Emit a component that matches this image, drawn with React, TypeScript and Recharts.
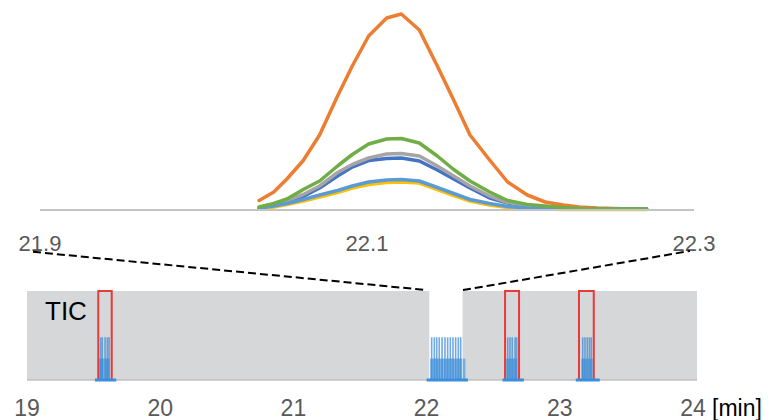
import { LineChart, Line, XAxis, YAxis, ComposedChart, ReferenceArea, ReferenceLine } from 'recharts';

// zoomed peak (top panel)
const zoomTimes = [22.034, 22.043, 22.051, 22.061, 22.071, 22.082, 22.091, 22.101, 22.112, 22.121, 22.132, 22.143, 22.153, 22.163, 22.175, 22.186, 22.198, 22.209, 22.22, 22.23, 22.241, 22.251, 22.261, 22.271];
const blueValues = [1.5, 4.5, 8, 13.5, 22, 34, 43, 49.5, 51.5, 52, 49, 40, 31, 22, 12, 7, 4, 2.5, 1.5, 1, 1, 1, 1, 1];
const orangeValues = [9.5, 18, 31, 49.5, 75, 114, 144, 174, 192, 196, 180, 144, 110, 75, 50, 28, 15, 8, 5, 3, 2, 1.5, 1, 1];
const grayValues = [2, 5.5, 9.5, 15.5, 24, 37.5, 45.5, 52, 56, 56.5, 54, 44, 34, 24, 14, 7.5, 4.5, 3, 2, 1.5, 1, 1, 1, 1];
const yellowValues = [1, 3, 5.5, 9, 13, 17.5, 22, 25.5, 27.5, 28, 27, 20.5, 14.5, 9, 5, 2.5, 1.5, 1, 0.5, 0.5, 0.5, 0.5, 0.5, 0.5];
const lightBlueValues = [2, 4, 6.5, 10.5, 15, 19.5, 24, 28, 30, 30.5, 29, 22.5, 16.5, 10.5, 6.5, 3.5, 2, 1.5, 1, 1, 1, 1, 1, 1];
const greenValues = [3, 6.5, 11, 20.5, 29, 44, 55.5, 66, 71, 71.5, 67, 54, 40.5, 29, 18, 9.5, 5.5, 4, 2.5, 1.5, 1, 1, 1, 1];
const zoomTicks = [21.9, 22.1, 22.3];

// full TIC (bottom panel)
const ticTicks = [19, 20, 21, 22, 23, 24];
const tallTimes = [19.553, 19.565, 19.586, 19.603, 19.616, 22.038, 22.058, 22.076, 22.095, 22.116, 22.138, 22.158, 22.178, 22.198, 22.218, 22.238, 22.256, 22.609, 22.626, 22.643, 22.664, 22.676, 23.172, 23.189, 23.206, 23.222, 23.236];
const tallValues = [48, 48, 48, 48, 48, 48, 48, 48, 48, 48, 48, 48, 48, 48, 48, 48, 48, 48, 48, 48, 48, 48, 48, 48, 48, 48, 48];
const shortTimes = [19.55, 19.56, 19.572, 19.59, 19.6, 19.612, 22.035, 22.048, 22.062, 22.075, 22.088, 22.102, 22.115, 22.128, 22.142, 22.155, 22.168, 22.182, 22.195, 22.208, 22.222, 22.235, 22.248, 22.258, 22.282, 22.606, 22.618, 22.632, 22.647, 22.66, 22.672, 23.17, 23.182, 23.195, 23.21, 23.225, 23.238];
const shortValues = [24, 24, 24, 24, 24, 24, 24, 24, 24, 24, 24, 24, 24, 24, 24, 24, 24, 24, 24, 24, 24, 24, 24, 24, 24, 24, 24, 24, 24, 24, 24, 24, 24, 24, 24, 24, 24];
const ticBands = [[19, 22.02], [22.27, 24.03]];
const windows = [[19.535, 19.636], [22.589, 22.694], [23.144, 23.255]];
const baseSegments = [[19.51, 19.67], [22.0, 22.31], [22.57, 22.73], [23.12, 23.3]];
const connectors = [
  [{ x: 19.045, y: 144 }, { x: 22.003, y: 101 }],
  [{ x: 22.273, y: 101 }, { x: 23.977, y: 145 }],
];

const zoomData = zoomTimes.map((t, i) => ({
  t,
  blue: blueValues[i],
  orange: orangeValues[i],
  gray: grayValues[i],
  yellow: yellowValues[i],
  lightBlue: lightBlueValues[i],
  green: greenValues[i],
}));

const ticData = ticTicks.map((t) => ({ t }));

const font = 'Liberation Sans, Arial, sans-serif';
const ticMargin = { top: 51, right: 75, bottom: 0, left: 27 };

const ZoomTick = ({ x, y, payload }: any) => (
  <text x={x} y={y + 39} textAnchor="middle" fill="#595959" fontSize={22} fontFamily={font}>
    {payload.value}
  </text>
);

const TicTick = ({ x, y, payload }: any) => (
  <g>
    <text x={x} y={y + 34} textAnchor="middle" fill="#595959" fontSize={23} fontFamily={font}>
      {payload.value}
    </text>
    {payload.value === 24 && (
      <text x={x + 19} y={y + 34} fill="#000" fontSize={23} fontFamily={font}>[min]</text>
    )}
  </g>
);

const lines = [
  { key: 'blue', color: '#4472C4' },
  { key: 'orange', color: '#ED7D31' },
  { key: 'gray', color: '#A5A5A5' },
  { key: 'yellow', color: '#FFC000' },
  { key: 'lightBlue', color: '#5B9BD5' },
  { key: 'green', color: '#70AD47' },
];

export default function App() {
  return (
    <div style={{ position: 'absolute', left: 0, top: 0, width: 772, height: 420, background: '#fff' }}>
      <div style={{ position: 'absolute', left: 0, top: 0 }}>
        <LineChart width={772} height={260} data={zoomData} margin={{ top: 10, right: 78, bottom: 0, left: 40 }}>
          <XAxis
            dataKey="t"
            type="number"
            domain={[21.9, 22.3]}
            ticks={zoomTicks}
            interval={0}
            allowDataOverflow
            height={50}
            tickLine={false}
            tickSize={0}
            axisLine={{ stroke: '#C4C4C4', strokeWidth: 2 }}
            tick={ZoomTick}
          />
          <YAxis hide domain={[0, 200]} />
          {lines.map((l) => (
            <Line
              key={l.key}
              dataKey={l.key}
              stroke={l.color}
              strokeWidth={3.5}
              strokeLinejoin="round"
              strokeLinecap="round"
              dot={false}
              activeDot={false}
              isAnimationActive={false}
            />
          ))}
        </LineChart>
      </div>
      {/* background: gray TIC bands + time axis */}
      <div style={{ position: 'absolute', left: 0, top: 240 }}>
        <ComposedChart width={772} height={180} data={ticData} margin={ticMargin}>
          <XAxis
            dataKey="t"
            type="number"
            domain={[19, 24.03]}
            ticks={ticTicks}
            interval={0}
            allowDataOverflow
            height={40}
            tickLine={false}
            tickSize={0}
            axisLine={{ stroke: '#BFBFBF', strokeWidth: 1.5 }}
            tick={TicTick}
          />
          <YAxis hide domain={[0, 100]} allowDataOverflow />
          {ticBands.map(([a, b], i) => (
            <ReferenceArea key={'band' + i} x1={a} x2={b} y1={0} y2={100} fill="#D6D7D9" fillOpacity={1} stroke="none" ifOverflow="visible" />
          ))}
        </ComposedChart>
      </div>
      {/* foreground: scans, windows, connectors */}
      <div style={{ position: 'absolute', left: 0, top: 240 }}>
        <ComposedChart width={772} height={180} data={ticData} margin={ticMargin}>
          <XAxis dataKey="t" type="number" domain={[19, 24.03]} allowDataOverflow height={40} axisLine={false} tickLine={false} tick={false} />
          <YAxis hide domain={[0, 100]} allowDataOverflow />
          {shortTimes.map((t, i) => (
            <ReferenceLine key={'s' + i} segment={[{ x: t, y: 0 }, { x: t, y: shortValues[i] }]} stroke="#3F8ED8" strokeOpacity={0.6} strokeWidth={2.5} ifOverflow="visible" />
          ))}
          {tallTimes.map((t, i) => (
            <ReferenceLine key={'t' + i} segment={[{ x: t, y: 0 }, { x: t, y: tallValues[i] }]} stroke="#3F8ED8" strokeOpacity={0.75} strokeWidth={1.6} ifOverflow="visible" />
          ))}
          {baseSegments.map(([a, b], i) => (
            <ReferenceLine key={'base' + i} segment={[{ x: a, y: 0 }, { x: b, y: 0 }]} stroke="#3A8FDD" strokeWidth={3} ifOverflow="visible" />
          ))}
          {windows.map(([a, b], i) => (
            <ReferenceArea key={'win' + i} x1={a} x2={b} y1={0} y2={100} fill="none" fillOpacity={0} stroke="#E83A3A" strokeWidth={2} ifOverflow="visible" />
          ))}
          {connectors.map((seg, i) => (
            <ReferenceLine key={'con' + i} segment={seg} stroke="#000" strokeWidth={2} strokeDasharray="8 4" ifOverflow="visible" />
          ))}
        </ComposedChart>
      </div>
      <div style={{ position: 'absolute', left: 45, top: 298, fontFamily: font, fontSize: 26, lineHeight: '26px', color: '#000' }}>
        TIC
      </div>
    </div>
  );
}
